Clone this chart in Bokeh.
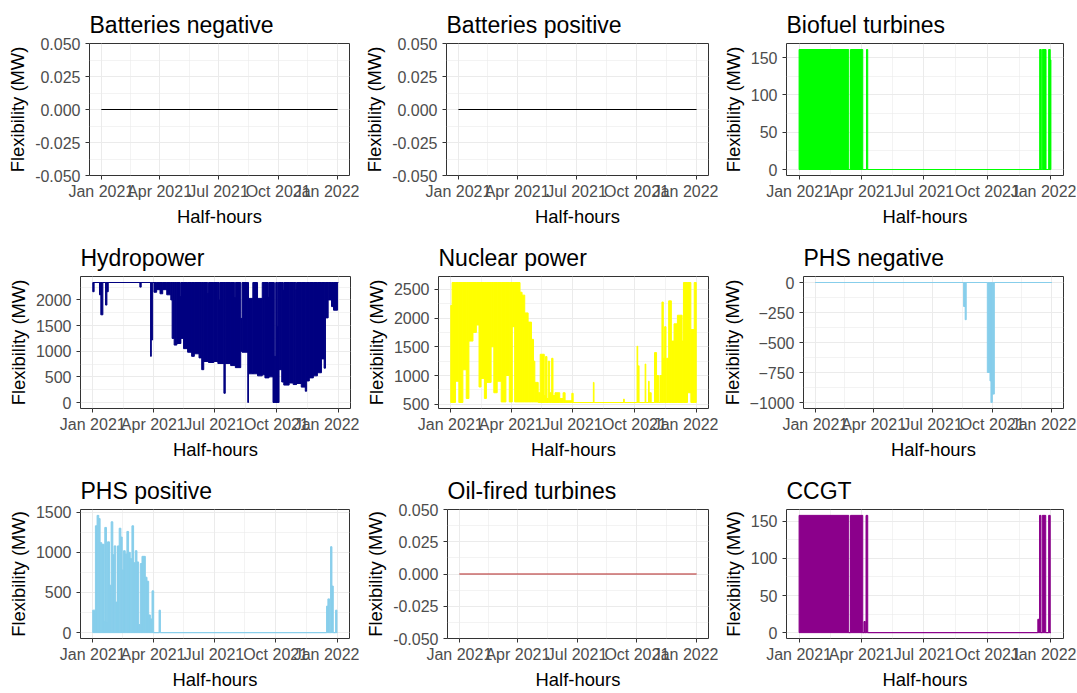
import numpy as np
import pandas as pd
from bokeh.plotting import figure
from bokeh.layouts import column, row
from bokeh.models import Range1d, FixedTicker, DatetimeTickFormatter, PrintfTickFormatter
from bokeh.embed import file_html
from bokeh.resources import INLINE

# ------------------------------------------------------------------ data
year_start = "2021-01-01"          # first half-hour of the series
last_day = 364.98                  # last half-hour, in days after year_start

x_tick_dates = ["2021-01-01", "2021-04-01", "2021-07-01", "2021-10-01", "2022-01-01"]
y_label = "Flexibility (MW)"
x_label = "Half-hours"

titles = ["Batteries negative", "Batteries positive", "Biofuel turbines",
          "Hydropower", "Nuclear power", "PHS negative",
          "PHS positive", "Oil-fired turbines", "CCGT"]
colors = ["black", "black", "#00FF00",
          "#000080", "#FFFF00", "#87CEEB",
          "#87CEEB", "#B22222", "#8B008B"]

# flat series (day after year_start, value)
bat_neg_day = [0, 364.98]
bat_neg_val = [0, 0]
bat_pos_day = [0, 364.98]
bat_pos_val = [0, 0]
oil_day = [0, 364.98]
oil_val = [0, 0]

# dense half-hourly series read as envelopes: bin edges (days), lower and upper value per bin
bio_day = [0, 72, 74.5, 92.3, 97.7, 99.5, 348.7, 351, 352.5, 357.9, 361.7, 364, 364.98]
bio_low = [0, 0, 0, 0, 0, 0, 0, 0, 0, 0, 0, 0]
bio_high = [161, 0, 161, 0, 161, 0, 161, 0, 161, 0, 161, 147]

ccgt_day = [0, 72, 74.5, 92.3, 94, 96, 97, 99.5, 346, 348.5, 350.5, 352.5, 357.5, 361.7, 364, 364.98]
ccgt_low = [0, 0, 0, 0, 0, 0, 0, 0, 0, 0, 0, 0, 0, 0, 0]
ccgt_high = [158, 0, 158, 0, 15, 0, 158, 0, 18, 158, 0, 158, 0, 158, 0]

hydro_day = [0, 2, 10, 12, 15, 19, 21, 23, 70, 72, 86, 87, 89, 91, 95, 100, 104, 110, 116, 118,
             121, 125, 130, 131, 135, 141, 147, 151, 158, 162, 165, 171, 172, 180, 186, 188, 189,
             195, 197, 205, 211, 212, 220, 222, 230.5, 231.5, 238, 245, 252, 256, 261, 262, 268,
             270, 272, 275, 276, 277, 281, 283, 284, 292, 298, 302, 303, 310, 316, 318, 322, 328,
             334, 340, 344, 346, 350, 355, 358, 364, 364.98]
hydro_low = [2160, 2340, 2100, 1710, 2340, 1900, 2160, 2340, 2250, 2340, 900, 1220, 2340, 2150,
             2200, 2120, 2200, 2100, 2000, 1250, 1120, 1150, 1150, 1250, 1050, 980, 900, 950, 870,
             640, 800, 800, 780, 800, 760, 760, 760, 180, 760, 720, 720, 680, 1000, 980, 0, 560,
             560, 520, 540, 480, 480, 500, 0, 0, 0, 0, 0, 640, 400, 400, 340, 380, 350, 350, 370,
             300, 220, 420, 480, 520, 580, 850, 670, 1650, 2000, 1870, 1800, 2340]
hydro_high = [2340, 2340, 2340, 2340, 2340, 2340, 2340, 2340, 2340, 2340, 2340, 2340, 2340, 2340,
              2340, 2340, 2340, 2340, 2340, 2340, 2340, 2340, 2065, 2340, 2340, 2340, 2340, 2340,
              2340, 2340, 2340, 2130, 2340, 2340, 2340, 2000, 2340, 2340, 2340, 2340, 2050, 2340,
              1640, 2340, 2340, 2030, 2340, 2030, 2340, 2340, 2050, 2340, 2340, 900, 2340, 1480,
              2340, 2340, 2340, 2190, 2340, 2340, 2340, 2200, 2340, 2340, 2340, 2340, 2340, 2340,
              2340, 2340, 2340, 2340, 2340, 2340, 2340, 2340]

nuc_day = [0, 2, 7, 12, 18, 23, 27, 33, 38, 42, 45, 50, 53, 60, 64, 69, 75, 82, 87, 91.5, 95,
           103, 106, 110, 115, 120, 123, 125, 130, 133, 139, 141, 143, 145, 147, 150, 152, 155,
           162, 167, 170, 180, 182, 212, 213, 257, 258, 277, 278, 279, 280, 289, 290, 294, 295,
           298, 303, 306, 309, 311, 314, 316, 318, 320, 321, 324, 328, 332, 337, 344, 346, 352,
           357, 362, 364.98]
nuc_low = [530, 530, 900, 530, 1100, 600, 1600, 1750, 1880, 800, 950, 600, 880, 1500, 700, 900,
           540, 1000, 540, 1850, 540, 540, 540, 540, 540, 540, 540, 540,
           530, 530, 530, 530, 530, 530, 530, 530, 530, 530, 530, 530, 530, 530, 530, 530, 530,
           530, 530, 530, 530, 530, 530, 530, 530, 530, 530, 530, 530, 530, 530, 530, 530, 530,
           530, 530, 530, 530, 530, 530, 530, 530, 530, 700, 530, 530]
nuc_high = [2220, 2620, 2620, 2620, 2620, 2620, 2620, 2620, 2620, 2620, 2620, 2620, 2620, 2620,
            2620, 2620, 2620, 2620, 2620, 2620, 2620, 2450, 2400, 2090, 1930, 1630, 1250, 880,
            700, 1370, 650, 1330, 600, 1250, 700, 1300, 650, 700, 600, 700, 560, 690, 530, 880,
            530, 590, 530, 1510, 530, 1170, 530, 1200, 530, 900, 700, 530, 1400, 1000, 530, 1000,
            2280, 1300, 1850, 530, 1300, 2300, 1600, 1900, 2050, 1600, 2620, 2620, 1800, 2620]

phsn_day = [0, 229, 231.4, 233, 265.6, 269.7, 271.2, 273.3, 276.4, 364.98]
phsn_low = [0, -200, -310, 0, -750, -820, -1000, -930, 0]
phsn_high = [0, 0, 0, 0, 0, 0, 0, 0, 0]

phsp_day = [0, 4, 6.5, 9, 11, 13.5, 17, 18, 20.5, 22, 25, 27.5, 30, 32, 34.5, 37, 39.5, 42, 44,
            46, 48.5, 51, 53.5, 56, 58.5, 61, 63.5, 66, 68.5, 71, 73.5, 76, 78.5, 81, 83.5, 86,
            88.5, 91, 99, 101, 349, 351, 353.5, 355, 357, 359, 362.5, 364.5, 364.98]
phsp_low = [0, 0, 0, 0, 0, 0, 0, 0, 0, 0, 0, 0, 0, 0, 0, 0, 0, 0, 0, 0, 0, 0, 0, 0,
            0, 0, 0, 0, 0, 0, 0, 0, 0, 0, 0, 0, 0, 0, 0, 0, 0, 0, 0, 0, 0, 0, 0, 0]
phsp_high = [280, 1330, 1460, 1420, 1120, 1100, 140, 1310, 130, 1130, 590, 1380, 970, 1080, 380,
             1080, 1300, 1190, 780, 1020, 980, 1260, 1000, 920, 1330, 870, 1020, 880, 100, 860,
             950, 950, 690, 640, 220, 170, 520, 0, 280, 0, 330, 420, 0, 1070, 580, 0, 280, 0]

# y tick labels of each panel
bat_ticks = [-0.05, -0.025, 0, 0.025, 0.05]
bio_ticks = [0, 50, 100, 150]
hydro_ticks = [0, 500, 1000, 1500, 2000]
nuc_ticks = [500, 1000, 1500, 2000, 2500]
phsn_ticks = [-1000, -750, -500, -250, 0]
phsp_ticks = [0, 500, 1000, 1500]

# ------------------------------------------------------------------ helpers
FONT = "Liberation Sans"
DAY_MS = 86400000.0
t0 = pd.Timestamp(year_start).value / 1e6


def to_ms(days):
    return t0 + np.asarray(days, dtype=float) * DAY_MS


x_major = [pd.Timestamp(d).value / 1e6 for d in x_tick_dates]
x_minor = [(a + b) / 2 for a, b in zip(x_major[:-1], x_major[1:])]
span = last_day * DAY_MS
x_lo, x_hi = t0 - 0.05 * span, t0 + 1.05 * span

COL_W = [359, 359, 358]
ROW_H = [231, 231, 230]
# min borders (left, right, top, bottom) that place each frame like the reference
borders = [(89, 10, 43, 56), (87, 10, 43, 56), (68, 13, 43, 56),
           (80, 9, 45, 53), (79, 10, 45, 53), (82, 13, 45, 53),
           (80, 10, 47, 49), (88, 10, 47, 49), (68, 13, 47, 49)]


def minor_of(ticks, lo, hi):
    step = ticks[1] - ticks[0]
    ext = [ticks[0] - step] + list(ticks) + [ticks[-1] + step]
    mids = [(a + b) / 2 for a, b in zip(ext[:-1], ext[1:])]
    return [m for m in mids if lo <= m <= hi]


def make_panel(i, ticks, values, fmt=None):
    lo, hi = min(values), max(values)
    if hi == lo:
        y0, y1 = lo - 0.05, hi + 0.05
    else:
        pad = 0.05 * (hi - lo)
        y0, y1 = lo - pad, hi + pad
    L, R, T, B = borders[i]
    p = figure(width=COL_W[i % 3], height=ROW_H[i // 3], output_backend="svg",
               toolbar_location=None, x_axis_type="datetime",
               x_range=Range1d(x_lo, x_hi), y_range=Range1d(y0, y1),
               min_border_left=L, min_border_right=R, min_border_top=T, min_border_bottom=B,
               title=titles[i])
    p.title.text_font = FONT
    p.title.text_font_size = "23px"
    p.title.text_font_style = "normal"
    p.title.text_color = "black"
    p.title.align = "left"
    p.title.standoff = 12
    p.outline_line_color = "#333333"
    p.outline_line_width = 1
    p.outline_line_alpha = 1
    p.background_fill_color = "white"
    p.border_fill_color = "white"

    p.xaxis.ticker = FixedTicker(ticks=x_major, minor_ticks=x_minor)
    p.xaxis.formatter = DatetimeTickFormatter(
        milliseconds="%b %Y", seconds="%b %Y", minsec="%b %Y", minutes="%b %Y",
        hourmin="%b %Y", hours="%b %Y", days="%b %Y", months="%b %Y", years="%b %Y")
    p.yaxis.ticker = FixedTicker(ticks=ticks, minor_ticks=minor_of(ticks, y0, y1))
    if fmt is not None:
        p.yaxis.formatter = fmt

    p.xaxis.axis_label = x_label
    p.yaxis.axis_label = y_label
    for ax in (p.xaxis, p.yaxis):
        ax.axis_line_color = None
        ax.major_tick_line_color = "#333333"
        ax.major_tick_line_width = 1
        ax.major_tick_out = 4
        ax.major_tick_in = 0
        ax.minor_tick_line_color = None
        ax.major_label_text_font = FONT
        ax.major_label_text_font_size = "16px"
        ax.major_label_text_color = "#4D4D4D"
        ax.axis_label_text_font = FONT
        ax.axis_label_text_font_size = "18.4px"
        ax.axis_label_text_font_style = "normal"
        ax.axis_label_text_color = "black"
    p.xaxis.major_label_standoff = 3
    p.xaxis.axis_label_standoff = 3
    p.yaxis.major_label_standoff = 5
    p.yaxis.axis_label_standoff = 4

    for g in (p.xgrid, p.ygrid):
        g.grid_line_color = "#EBEBEB"
        g.grid_line_width = 1
        g.minor_grid_line_color = "#EBEBEB"
        g.minor_grid_line_width = 0.6
    return p


def add_line(p, day, val, color):
    p.line(to_ms(day), val, line_color=color, line_width=1)


def add_band(p, day, low, high, color):
    d = np.asarray(day, dtype=float)
    p.quad(left=to_ms(d[:-1]), right=to_ms(d[1:]), bottom=low, top=high,
           fill_color=color, line_color=color, line_width=1)


p1 = make_panel(0, bat_ticks, bat_neg_val, PrintfTickFormatter(format="%.3f"))
add_line(p1, bat_neg_day, bat_neg_val, colors[0])

p2 = make_panel(1, bat_ticks, bat_pos_val, PrintfTickFormatter(format="%.3f"))
add_line(p2, bat_pos_day, bat_pos_val, colors[1])

p3 = make_panel(2, bio_ticks, bio_low + bio_high)
add_band(p3, bio_day, bio_low, bio_high, colors[2])

p4 = make_panel(3, hydro_ticks, hydro_low + hydro_high)
add_band(p4, hydro_day, hydro_low, hydro_high, colors[3])

p5 = make_panel(4, nuc_ticks, nuc_low + nuc_high)
add_band(p5, nuc_day, nuc_low, nuc_high, colors[4])

p6 = make_panel(5, phsn_ticks, phsn_low + phsn_high)
add_band(p6, phsn_day, phsn_low, phsn_high, colors[5])

p7 = make_panel(6, phsp_ticks, phsp_low + phsp_high)
add_band(p7, phsp_day, phsp_low, phsp_high, colors[6])

p8 = make_panel(7, bat_ticks, oil_val, PrintfTickFormatter(format="%.3f"))
add_line(p8, oil_day, oil_val, colors[7])

p9 = make_panel(8, bio_ticks, ccgt_low + ccgt_high)
add_band(p9, ccgt_day, ccgt_low, ccgt_high, colors[8])

layout = column(row(p1, p2, p3), row(p4, p5, p6), row(p7, p8, p9))

open("out.html", "w").write(file_html(layout, INLINE))
